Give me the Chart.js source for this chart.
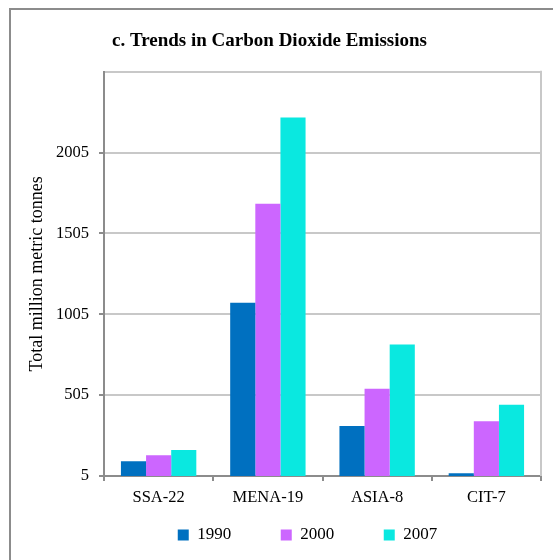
<!DOCTYPE html>
<html>
<head>
<meta charset="utf-8">
<script src="https://cdn.jsdelivr.net/npm/chart.js@4.4.1/dist/chart.umd.min.js"></script>
<style>
  html, body { margin: 0; padding: 0; background: #fff; overflow: hidden; }
  #wrap { position: relative; width: 553px; height: 560px; }
  #frame {
    position: absolute; left: 9px; top: 8px; width: 700px; height: 700px;
    border-left: 2px solid #8c8c8c; border-top: 2px solid #8c8c8c;
  }
  canvas { position: absolute; left: 0; top: 0; }
</style>
</head>
<body>
<div id="wrap">
  <div id="frame"></div>
  <canvas id="co2-chart" width="553" height="560"></canvas>
</div>
<script>
  "use strict";

  // valeurs (millions de tonnes)
  const regions = ["SSA-22", "MENA-19", "ASIA-8", "CIT-7"];
  const years = ["1990", "2000", "2007"];
  const values1990 = [96, 1076, 315, 22];
  const values2000 = [133, 1689, 545, 344];
  const values2007 = [166, 2222, 818, 446];
  const yTicks = [5, 505, 1005, 1505, 2005, 2505];

  const colors = ["#0070c0", "#cc66ff", "#0ae8e0"];
  const FONT = "'Liberation Serif', 'Times New Roman', serif";

  // petits réglages de position (titre, légende) + bord droit du cadre
  const framePlugin = {
    id: "frameTweaks",
    afterLayout(chart) {
      if (chart.titleBlock) {
        chart.titleBlock.left -= 12;
        chart.titleBlock.right -= 12;
      }
      if (chart.legend) {
        chart.legend.left += 26;
        chart.legend.right += 26;
        chart.legend.top = 477;
        chart.legend.bottom = 477 + chart.legend.height;
      }
    },
    beforeDatasetsDraw(chart) {
      const { ctx, chartArea } = chart;
      ctx.save();
      ctx.strokeStyle = "#c8c8c8";
      ctx.lineWidth = 2;
      ctx.beginPath();
      ctx.moveTo(chartArea.right, chartArea.top - 1);
      ctx.lineTo(chartArea.right, chartArea.bottom);
      ctx.stroke();
      ctx.restore();
    }
  };

  const seriesValues = [values1990, values2000, values2007];

  const data = {
    labels: regions,
    datasets: years.map((y, i) => ({
      label: y,
      data: seriesValues[i],
      backgroundColor: colors[i],
      borderWidth: 0,
      barPercentage: 1,
      categoryPercentage: 0.69
    }))
  };

  const options = {
    responsive: false,
    animation: false,
    // légende haute (padding 49.5) repositionnée ensuite -> marge basse négative
    layout: { padding: { left: 22, right: 12, top: 0, bottom: -30.5 } },
    plugins: {
      title: {
        display: true,
        text: "c. Trends in Carbon Dioxide Emissions",
        color: "#000",
        font: { family: FONT, size: 19, weight: "bold" },
        padding: { top: 30, bottom: 19 }
      },
      legend: {
        position: "bottom",
        labels: {
          color: "#000",
          font: { family: FONT, size: 17 },
          boxWidth: 11,
          boxHeight: 11,
          padding: 49.5
        }
      },
      tooltip: { enabled: false }
    },
    scales: {
      x: {
        afterFit(s) { s.height = 38; },
        grid: {
          offset: true,
          drawOnChartArea: false,
          drawTicks: true,
          tickLength: 5,
          tickColor: "#8c8c8c",
          lineWidth: 2
        },
        border: { color: "#8c8c8c", width: 2 },
        ticks: {
          color: "#000",
          font: { family: FONT, size: 16.5 },
          padding: 7,
          maxRotation: 0
        }
      },
      y: {
        min: 5,
        max: 2505,
        afterFit(s) { s.width = 82; },
        afterBuildTicks(s) {
          s.ticks = yTicks.map((v) => ({ value: v }));
        },
        grid: {
          color: "#c8c8c8",
          lineWidth: 2,
          tickLength: 5,
          tickColor: (c) => (c.tick && c.tick.value === 2505 ? "rgba(0,0,0,0)" : "#8c8c8c")
        },
        border: { color: "#8c8c8c", width: 2 },
        ticks: {
          color: "#000",
          font: { family: FONT, size: 16.5 },
          padding: 10,
          callback: (v) => (v === 2505 ? "" : String(v))
        },
        title: {
          display: true,
          text: "Total million metric tonnes",
          color: "#000",
          font: { family: FONT, size: 18 }
        }
      }
    }
  };

  new Chart(document.getElementById("co2-chart"), {
    type: "bar",
    data,
    options,
    plugins: [framePlugin]
  });
</script>
</body>
</html>
